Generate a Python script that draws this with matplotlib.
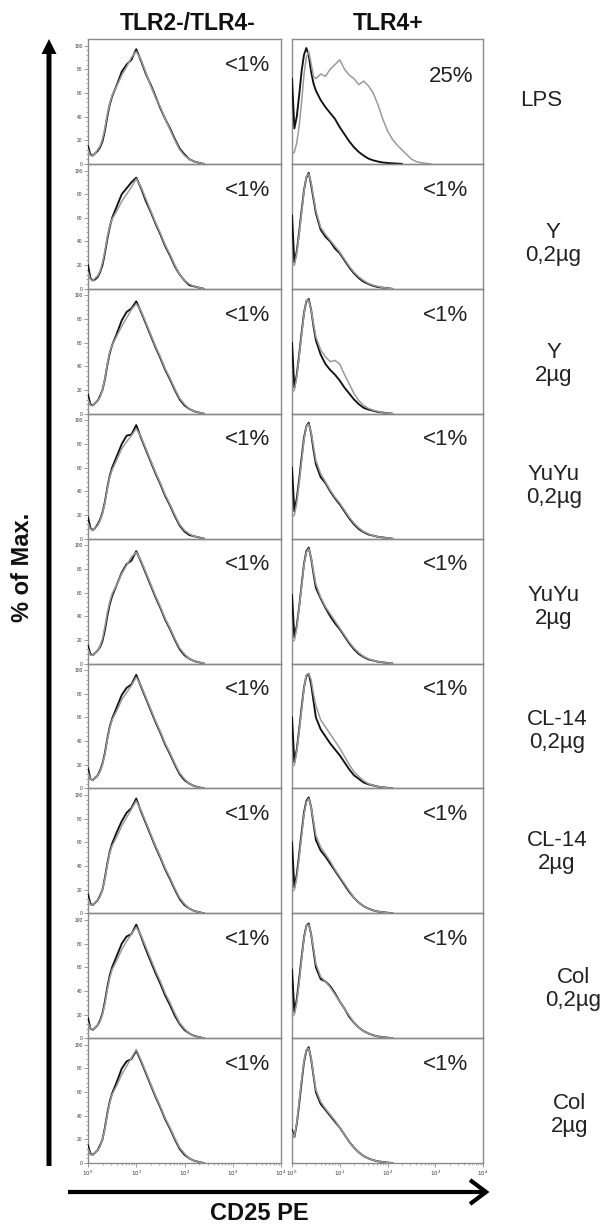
import numpy as np
import matplotlib
matplotlib.use("Agg")
import matplotlib.pyplot as plt
from matplotlib.patches import FancyArrow
from matplotlib.ticker import FixedLocator, LogLocator, NullFormatter

plt.rcParams['font.family'] = ['Liberation Sans', 'DejaVu Sans']

# ---------------- data ----------------
# histogram channels, in log10(CD25 PE) decades
log_channels = [0, 0.05, 0.1, 0.15, 0.2, 0.25, 0.3, 0.35, 0.4, 0.45, 0.5,
                0.6, 0.7, 0.8, 0.9, 1.0, 1.1, 1.2, 1.3, 1.4, 1.5, 1.6, 1.7,
                1.8, 1.9, 2.0, 2.1, 2.2, 2.3, 2.4, 2.5, 2.6, 2.7, 2.8, 2.9, 3.0]

col_titles = ["TLR2-/TLR4-", "TLR4+"]
row_labels = ["LPS", "Y\n0,2µg", "Y\n2µg", "YuYu\n0,2µg", "YuYu\n2µg",
              "CL-14\n0,2µg", "CL-14\n2µg", "Col\n0,2µg", "Col\n2µg"]
pct_neg = ["<1%", "<1%", "<1%", "<1%", "<1%", "<1%", "<1%", "<1%", "<1%"]
pct_pos = ["25%", "<1%", "<1%", "<1%", "<1%", "<1%", "<1%", "<1%", "<1%"]
y_ticks = [0, 20, 40, 60, 80, 100]
x_ticks = [1, 10, 100, 1000, 10000]
x_tick_labels = [r"$10^0$", r"$10^1$", r"$10^2$", r"$10^3$", r"$10^4$"]

# TLR2-/TLR4- column (% of max), black = control, gray = stimulated
neg_black_lps = [15, 8, 7, 9, 11, 14, 19, 28, 40, 50, 57, 67, 78, 84, 88, 97, 87, 76, 67, 57, 47, 38, 30, 21, 13, 8, 4, 2, 1, 0]
neg_gray_lps = [12, 7, 7, 9, 12, 15, 21, 30, 42, 51, 58, 66, 75, 82, 90, 95, 88, 77, 66, 56, 48, 38, 29, 20, 12, 7, 4, 2, 1, 0]
neg_black_y02 = [20, 9, 7, 8, 10, 14, 20, 30, 42, 52, 60, 70, 80, 85, 90, 94, 85, 74, 65, 55, 46, 36, 28, 19, 12, 7, 3, 2, 1, 0]
neg_gray_y02 = [14, 8, 7, 9, 11, 15, 22, 32, 44, 53, 59, 66, 74, 80, 86, 93, 86, 76, 66, 56, 47, 37, 29, 20, 12, 7, 4, 2, 1, 0]
neg_black_y2 = [16, 8, 7, 9, 11, 15, 20, 29, 41, 51, 58, 68, 79, 86, 89, 95, 86, 76, 66, 56, 47, 37, 29, 20, 12, 7, 4, 2, 1, 0]
neg_gray_y2 = [12, 7, 7, 9, 11, 14, 20, 30, 42, 52, 58, 66, 74, 81, 88, 93, 87, 77, 67, 57, 48, 38, 30, 21, 13, 8, 4, 2, 1, 0]
neg_black_yuyu02 = [18, 9, 7, 9, 12, 16, 22, 31, 43, 53, 60, 70, 80, 87, 88, 96, 85, 75, 65, 55, 46, 36, 28, 19, 11, 6, 3, 2, 1, 0]
neg_gray_yuyu02 = [13, 8, 7, 9, 11, 15, 21, 30, 42, 52, 58, 67, 76, 82, 87, 93, 86, 76, 66, 56, 47, 37, 29, 20, 12, 7, 4, 2, 1, 0]
neg_black_yuyu2 = [15, 8, 7, 9, 11, 14, 19, 28, 40, 50, 57, 67, 77, 84, 87, 95, 86, 76, 66, 56, 47, 37, 29, 20, 12, 7, 4, 2, 1, 0]
neg_gray_yuyu2 = [12, 7, 7, 9, 11, 15, 21, 31, 43, 52, 59, 67, 76, 83, 90, 94, 87, 77, 67, 57, 48, 38, 30, 21, 13, 8, 4, 2, 1, 0]
neg_black_cl02 = [17, 8, 7, 9, 11, 15, 21, 30, 42, 52, 59, 69, 79, 85, 88, 96, 86, 76, 66, 56, 47, 37, 29, 20, 12, 7, 4, 2, 1, 0]
neg_gray_cl02 = [13, 8, 7, 9, 11, 14, 20, 29, 41, 51, 58, 66, 75, 81, 87, 94, 87, 77, 67, 57, 48, 38, 30, 21, 13, 8, 4, 2, 1, 0]
neg_black_cl2 = [16, 8, 7, 9, 11, 15, 20, 30, 42, 52, 59, 69, 78, 85, 89, 97, 86, 76, 66, 56, 47, 37, 29, 20, 12, 7, 4, 2, 1, 0]
neg_gray_cl2 = [12, 7, 7, 9, 11, 14, 20, 29, 41, 51, 57, 65, 74, 81, 88, 95, 87, 77, 67, 57, 48, 38, 30, 21, 13, 8, 4, 2, 1, 0]
neg_black_col02 = [17, 8, 7, 9, 11, 15, 21, 31, 43, 53, 60, 70, 80, 86, 88, 96, 86, 75, 65, 55, 46, 36, 28, 19, 12, 7, 4, 2, 1, 0]
neg_gray_col02 = [13, 8, 7, 9, 11, 14, 20, 29, 41, 51, 58, 66, 75, 82, 88, 94, 87, 77, 67, 57, 48, 38, 30, 21, 13, 8, 4, 2, 1, 0]
neg_black_col2 = [15, 8, 7, 9, 11, 15, 20, 30, 42, 52, 59, 69, 80, 86, 88, 95, 86, 76, 66, 56, 47, 37, 29, 20, 12, 7, 4, 2, 1, 0]
neg_gray_col2 = [12, 7, 7, 9, 11, 14, 20, 29, 41, 51, 58, 66, 75, 82, 89, 96, 87, 77, 67, 57, 48, 38, 30, 21, 13, 8, 4, 2, 1, 0]

# TLR4+ column
pos_black_lps = [72, 30, 40, 58, 78, 92, 98, 92, 78, 68, 62, 54, 48, 43, 38, 31, 25, 19, 14, 10, 7, 4.5, 3, 2, 1.2, 0.8, 0.5, 0.3, 0]
pos_gray_lps = [8, 10, 18, 32, 52, 75, 90, 95, 85, 74, 72, 76, 74, 80, 84, 88, 80, 75, 72, 67, 70, 66, 60, 50, 38, 28, 21, 16, 12, 8, 4, 2, 1, 0.5, 0]
pos_black_y02 = [62, 22, 32, 48, 66, 83, 94, 98, 88, 76, 64, 50, 44, 40, 34, 30, 24, 18, 13, 9, 6, 4, 2.5, 1.5, 1, 0.5, 0]
pos_gray_y02 = [20, 20, 30, 46, 64, 82, 95, 97, 90, 78, 66, 52, 46, 41, 36, 31, 25, 19, 14, 10, 7, 4.5, 3, 2, 1, 0.5, 0]
pos_black_y2 = [60, 22, 33, 50, 68, 85, 95, 97, 88, 74, 62, 50, 42, 37, 33, 28, 22, 17, 12, 8, 5, 3.5, 2.5, 1.5, 1, 0.5, 0]
pos_gray_y2 = [18, 20, 31, 48, 66, 84, 96, 96, 88, 76, 65, 54, 48, 44, 45, 42, 33, 25, 17, 11, 7, 4.5, 3, 2, 1, 0.5, 0]
pos_black_yuyu02 = [60, 23, 34, 50, 68, 85, 95, 98, 89, 75, 63, 52, 47, 40, 34, 29, 23, 17, 12, 8, 5.5, 3.5, 2.5, 1.5, 1, 0.5, 0]
pos_gray_yuyu02 = [18, 20, 30, 47, 65, 83, 95, 97, 90, 78, 66, 55, 48, 41, 35, 30, 24, 18, 13, 9, 6, 4, 2.5, 1.5, 1, 0.5, 0]
pos_black_yuyu2 = [58, 22, 32, 48, 66, 84, 95, 98, 89, 76, 64, 55, 47, 40, 34, 29, 23, 17, 12, 8, 5.5, 3.5, 2.5, 1.5, 1, 0.5, 0]
pos_gray_yuyu2 = [18, 20, 30, 47, 65, 83, 94, 97, 90, 78, 67, 56, 48, 42, 36, 30, 24, 18, 13, 9, 6, 4, 2.5, 1.5, 1, 0.5, 0]
pos_black_cl02 = [60, 22, 33, 50, 68, 85, 95, 97, 88, 74, 60, 50, 44, 38, 33, 28, 22, 16, 11, 8, 5, 3.5, 2.5, 1.5, 1, 0.5, 0]
pos_gray_cl02 = [18, 20, 31, 48, 66, 84, 96, 97, 92, 80, 70, 58, 52, 46, 40, 34, 27, 20, 14, 10, 6.5, 4, 2.5, 1.5, 1, 0.5, 0]
pos_black_cl2 = [60, 22, 33, 50, 68, 85, 95, 98, 90, 76, 62, 53, 48, 42, 36, 30, 24, 18, 13, 9, 6, 4, 2.5, 1.5, 1, 0.5, 0]
pos_gray_cl2 = [18, 20, 30, 47, 65, 83, 94, 97, 90, 78, 66, 56, 50, 44, 37, 31, 25, 19, 13, 9, 6, 4, 2.5, 1.5, 1, 0.5, 0]
pos_black_col02 = [58, 22, 33, 50, 68, 85, 95, 97, 88, 74, 60, 50, 48, 44, 38, 31, 25, 18, 13, 9, 6, 4, 2.5, 1.5, 1, 0.5, 0]
pos_gray_col02 = [18, 20, 30, 47, 66, 84, 95, 96, 88, 76, 63, 52, 48, 43, 37, 31, 25, 19, 13, 9, 6, 4, 2.5, 1.5, 1, 0.5, 0]
pos_black_col2 = [28, 22, 33, 50, 68, 85, 95, 98, 88, 74, 60, 50, 45, 40, 35, 30, 24, 18, 13, 9, 6, 4, 2.5, 1.5, 1, 0.5, 0]
pos_gray_col2 = [26, 22, 34, 52, 70, 86, 96, 97, 89, 75, 62, 52, 46, 41, 36, 30, 24, 18, 13, 9, 6, 4, 2.5, 1.5, 1, 0.5, 0]

neg_black = [neg_black_lps, neg_black_y02, neg_black_y2, neg_black_yuyu02, neg_black_yuyu2,
             neg_black_cl02, neg_black_cl2, neg_black_col02, neg_black_col2]
neg_gray = [neg_gray_lps, neg_gray_y02, neg_gray_y2, neg_gray_yuyu02, neg_gray_yuyu2,
            neg_gray_cl02, neg_gray_cl2, neg_gray_col02, neg_gray_col2]
pos_black = [pos_black_lps, pos_black_y02, pos_black_y2, pos_black_yuyu02, pos_black_yuyu2,
             pos_black_cl02, pos_black_cl2, pos_black_col02, pos_black_col2]
pos_gray = [pos_gray_lps, pos_gray_y02, pos_gray_y2, pos_gray_yuyu02, pos_gray_yuyu2,
            pos_gray_cl02, pos_gray_cl2, pos_gray_col02, pos_gray_col2]

# ---------------- layout (pixels) ----------------
W, H = 607, 1225
fig = plt.figure(figsize=(W / 100, H / 100), dpi=100)
fig.patch.set_facecolor("white")

canvas = fig.add_axes([0, 0, 1, 1])
canvas.set_xlim(0, W)
canvas.set_ylim(H, 0)
canvas.axis("off")

col_x = [(88, 281), (292, 483)]
top0, row_h = 39, 124.9
n_rows = len(row_labels)
spine_col = "#8a8a8a"
black_col = "#111111"
gray_col = "#9a9a9a"


def px_rect(x0, x1, top, h):
    return [x0 / W, 1 - (top + h) / H, (x1 - x0) / W, h / H]


for r in range(n_rows):
    top = top0 + r * row_h
    for c in range(2):
        ax = fig.add_axes(px_rect(col_x[c][0], col_x[c][1], top, row_h))
        ax.set_xscale("log")
        ax.set_xlim(1, 10000)
        ax.set_ylim(0, 105.6)
        ax.patch.set_alpha(0)
        for s in ax.spines.values():
            s.set_color(spine_col)
            s.set_linewidth(1.0)
        blk = (neg_black if c == 0 else pos_black)[r]
        gry = (neg_gray if c == 0 else pos_gray)[r]
        xb = 10 ** np.array(log_channels[:len(blk)])
        xg = 10 ** np.array(log_channels[:len(gry)])
        ax.plot(xb, blk, color=black_col, lw=1.35, zorder=3)
        ax.plot(xg, gry, color=gray_col, lw=1.1, zorder=4)
        pct = (pct_neg if c == 0 else pct_pos)[r]
        if pct == "25%":
            ax.text(0.95, 0.70, pct, transform=ax.transAxes, ha="right",
                    va="center", fontsize=16, color="#222222")
        else:
            ax.text(0.945 if c == 0 else 0.92, 0.79, pct, transform=ax.transAxes,
                    ha="right", va="center", fontsize=16, color="#222222")
        # y ticks
        if c == 0:
            ax.yaxis.set_major_locator(FixedLocator(y_ticks))
            ax.yaxis.set_minor_locator(FixedLocator(list(range(0, 101, 4))))
            ax.set_yticklabels([str(v) for v in y_ticks])
            ax.tick_params(axis="y", which="major", length=3, width=0.6,
                           color=spine_col, labelsize=3.5, pad=1,
                           labelcolor="#333333")
            ax.tick_params(axis="y", which="minor", length=1.5, width=0.5,
                           color=spine_col)
        else:
            ax.set_yticks([])
            ax.yaxis.set_minor_locator(FixedLocator([]))
        # x ticks
        if r == n_rows - 1:
            ax.set_xticks(x_ticks)
            ax.set_xticklabels(x_tick_labels)
            ax.xaxis.set_minor_locator(LogLocator(base=10, subs=range(2, 10)))
            ax.xaxis.set_minor_formatter(NullFormatter())
            ax.tick_params(axis="x", which="major", length=3, width=0.6,
                           color=spine_col, labelsize=4, pad=1,
                           labelcolor="#333333")
            ax.tick_params(axis="x", which="minor", length=1.5, width=0.5,
                           color=spine_col)
        else:
            ax.set_xticks([])
            ax.xaxis.set_minor_locator(FixedLocator([]))

# column titles
title_pos = [(188, 23), (388, 23)]
for (tx, ty), t in zip(title_pos, col_titles):
    canvas.text(tx, ty, t, ha="center", va="center", fontsize=16.5,
                fontweight="bold", color="#111111")

# row labels
label_pos = [(541, 100), (553, 244), (554, 364), (554, 486), (554, 607),
             (557, 731), (557, 852), (573, 989), (570, 1115)]
for (lx, ly), t in zip(label_pos, row_labels):
    canvas.text(lx, ly, t, ha="center", va="center", fontsize=16,
                color="#222222", linespacing=1.15)

# axis labels
canvas.text(23, 567, "% of Max.", rotation=90, ha="center", va="center",
            fontsize=17, fontweight="bold", color="#111111")
canvas.text(259, 1214, "CD25 PE", ha="center", va="center",
            fontsize=17, fontweight="bold", color="#111111")

# vertical arrow
canvas.add_patch(FancyArrow(49, 1166, 0, -1127, width=5, head_width=15,
                            head_length=15, length_includes_head=True,
                            color="black", lw=0))
# horizontal arrow with open chevron head
canvas.plot([68, 485], [1192, 1192], color="black", lw=3.0,
            solid_capstyle="butt")
canvas.plot([470, 486, 470], [1180, 1192, 1204], color="black", lw=3.0,
            solid_joinstyle="miter", solid_capstyle="butt")

fig.savefig("out.png", dpi=100, facecolor="white")
